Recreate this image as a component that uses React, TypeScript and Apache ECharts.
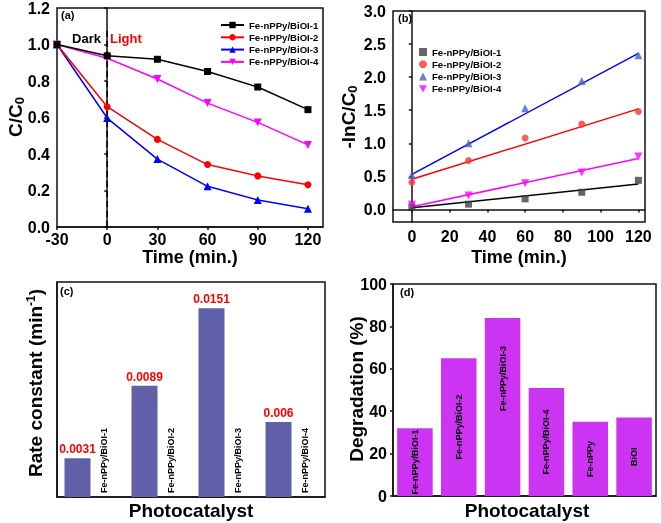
import React, { useEffect, useRef } from "react";
import * as echarts from "echarts";

// ---------- data ----------
const seriesNames = ["Fe-nPPy/BiOI-1", "Fe-nPPy/BiOI-2", "Fe-nPPy/BiOI-3", "Fe-nPPy/BiOI-4"];

// (a) C/C0 vs time
const timeA = [-30, 0, 30, 60, 90, 120];
const cc1 = [1.0, 0.938, 0.919, 0.852, 0.767, 0.643];
const cc2 = [1.0, 0.659, 0.48, 0.342, 0.28, 0.231];
const cc3 = [1.0, 0.597, 0.372, 0.223, 0.148, 0.1];
const cc4 = [1.0, 0.925, 0.811, 0.679, 0.573, 0.45];
const lightOnTime = 0;
const darkLineTop = 1.08;
const ticksAX = [-30, 0, 30, 60, 90, 120];
const ticksAY = [0, 0.2, 0.4, 0.6, 0.8, 1.0, 1.2];

// (b) -ln(C/C0) vs time
const timeB = [0, 30, 60, 90, 120];
const ln1 = [0.04, 0.08, 0.16, 0.26, 0.44];
const ln2 = [0.41, 0.74, 1.08, 1.29, 1.48];
const ln3 = [0.52, 1.0, 1.53, 1.94, 2.33];
const ln4 = [0.07, 0.21, 0.395, 0.56, 0.8];
const fitTimes = [0, 120];
const fit1 = [0.025, 0.385];
const fit2 = [0.455, 1.52];
const fit3 = [0.53, 2.36];
const fit4 = [0.04, 0.77];
const ticksBX = [0, 20, 40, 60, 80, 100, 120];
const ticksBY = [0, 0.5, 1.0, 1.5, 2.0, 2.5, 3.0];

// (c) rate constants
const catC = ["Fe-nPPy/BiOI-1", "Fe-nPPy/BiOI-2", "Fe-nPPy/BiOI-3", "Fe-nPPy/BiOI-4"];
const rateK = [0.0031, 0.0089, 0.0151, 0.006];

// (d) degradation
const catD = ["Fe-nPPy/BiOI-1", "Fe-nPPy/BiOI-2", "Fe-nPPy/BiOI-3", "Fe-nPPy/BiOI-4", "Fe-nPPy", "BiOI"];
const degr = [32, 65, 84, 51, 35, 37];

// ---------- styles ----------
const FONT = "'Liberation Sans', Arial, Helvetica, sans-serif";
const lineColors = ["#000000", "#ff0000", "#0000ff", "#ff00ff"];
const scatterColors = ["#404040", "#ff3333", "#4262c4", "#ff00ff"];
const downTri = "path://M0,0 L10,0 L5,9 Z";
const symbolsA = ["rect", "circle", "triangle", downTri];
const symSizeA = [7, 7, 8, 8];

const tickLabel = { fontFamily: FONT, fontWeight: "bold" as const, fontSize: 16, color: "#000" };
const axisLineStyle = { show: true, lineStyle: { color: "#111", width: 1.5 } };
const tickStyle = { show: true, inside: false, length: 3, lineStyle: { color: "#111", width: 1.5 } };

function nameText(x: number, y: number, rich: any, text: string, rot: number) {
  return {
    type: "text",
    x,
    y,
    rotation: rot,
    style: {
      text,
      fontFamily: FONT,
      fontWeight: "bold",
      fontSize: 19,
      fill: "#000",
      align: "center",
      verticalAlign: "middle",
      rich,
    },
  };
}

const subRich = {
  m: { fontFamily: FONT, fontWeight: "bold", fontSize: 19, fill: "#000", lineHeight: 22 },
  t: { fontFamily: FONT, fontWeight: "bold", fontSize: 18, fill: "#000", lineHeight: 18 },
  s: { fontFamily: FONT, fontWeight: "bold", fontSize: 13, fill: "#000", lineHeight: 22, padding: [9, 0, 0, 0] },
  p: { fontFamily: FONT, fontWeight: "bold", fontSize: 12, fill: "#000", lineHeight: 22, padding: [0, 0, 9, 0] },
};

function panelLabel(x: number, y: number, t: string) {
  return {
    type: "text",
    x,
    y,
    style: { text: t, fontFamily: FONT, fontWeight: "bold", fontSize: 11, fill: "#000", verticalAlign: "middle" },
  };
}

const legendText = { fontFamily: FONT, fontWeight: "bold" as const, fontSize: 9.6, color: "#000", lineHeight: 10 };

export default function App() {
  const ref = useRef<HTMLDivElement>(null);
  useEffect(() => {
    if (!ref.current) return;
    const chart = echarts.init(ref.current, null, { renderer: "svg" });

    const gridBase = { show: true, borderColor: "#111", borderWidth: 1.5, backgroundColor: "#fff", containLabel: false };

    const seriesA = [cc1, cc2, cc3, cc4].map((arr, i) => ({
      name: seriesNames[i],
      type: "line",
      xAxisIndex: 0,
      yAxisIndex: 0,
      data: timeA.map((t, j) => [t, arr[j]]),
      symbol: symbolsA[i],
      symbolSize: symSizeA[i],
      color: lineColors[i],
      lineStyle: { width: 1.5, color: lineColors[i] },
      itemStyle: { color: lineColors[i] },
      z: 5 - i,
    }));

    const darkLight = {
      name: "dark-light",
      type: "line",
      xAxisIndex: 0,
      yAxisIndex: 0,
      data: [
        [lightOnTime, 0],
        [lightOnTime, darkLineTop],
      ],
      symbol: "none",
      lineStyle: { color: "#000", width: 1.5, type: [6, 4] },
      z: 1,
    };

    const scatterB = [ln1, ln2, ln3, ln4].map((arr, i) => ({
      name: "b:" + seriesNames[i],
      type: "scatter",
      xAxisIndex: 1,
      yAxisIndex: 1,
      data: timeB.map((t, j) => [t, arr[j]]),
      symbol: symbolsA[i],
      symbolSize: symSizeA[i],
      itemStyle: { color: scatterColors[i] },
      z: 4,
    }));

    const fitB = [fit1, fit2, fit3, fit4].map((arr, i) => ({
      name: "fit" + i,
      type: "line",
      xAxisIndex: 1,
      yAxisIndex: 1,
      data: fitTimes.map((t, j) => [t, arr[j]]),
      symbol: "none",
      lineStyle: { width: 1.5, color: lineColors[i] },
      z: 3,
    }));

    const option: any = {
      animation: false,
      textStyle: { fontFamily: FONT },
      grid: [
        { ...gridBase, left: 57, top: 8, width: 266, height: 219 },
        { ...gridBase, left: 393, top: 11, width: 252, height: 211 },
        { ...gridBase, left: 57, top: 282, width: 268, height: 215 },
        { ...gridBase, left: 393, top: 284, width: 263, height: 212 },
      ],
      xAxis: [
        {
          gridIndex: 0,
          type: "value",
          min: -30,
          max: 129,
          splitLine: { show: false },
          axisLine: axisLineStyle,
          axisTick: { ...tickStyle, customValues: ticksAX },
          axisLabel: { ...tickLabel, margin: 4, customValues: ticksAX },
        },
        {
          gridIndex: 1,
          type: "value",
          min: -10,
          max: 123.5,
          splitLine: { show: false },
          axisLine: axisLineStyle,
          axisTick: { ...tickStyle, customValues: ticksBX },
          axisLabel: { ...tickLabel, margin: 6, customValues: ticksBX },
        },
        {
          gridIndex: 2,
          type: "category",
          data: catC,
          axisLine: axisLineStyle,
          axisTick: { show: false },
          axisLabel: { show: false },
        },
        {
          gridIndex: 3,
          type: "category",
          data: catD,
          axisLine: axisLineStyle,
          axisTick: { show: false },
          axisLabel: { show: false },
        },
      ],
      yAxis: [
        {
          gridIndex: 0,
          type: "value",
          min: 0,
          max: 1.2,
          splitLine: { show: false },
          axisLine: axisLineStyle,
          axisTick: { ...tickStyle, customValues: ticksAY },
          axisLabel: { ...tickLabel, margin: 7, customValues: ticksAY, formatter: (v: number) => v.toFixed(1) },
        },
        {
          gridIndex: 1,
          type: "value",
          min: -0.19,
          max: 3.0,
          splitLine: { show: false },
          axisLine: axisLineStyle,
          axisTick: { ...tickStyle, customValues: ticksBY },
          axisLabel: { ...tickLabel, margin: 7, customValues: ticksBY, formatter: (v: number) => v.toFixed(1) },
        },
        {
          gridIndex: 2,
          type: "value",
          min: 0,
          max: 0.0172,
          splitLine: { show: false },
          axisLine: axisLineStyle,
          axisTick: { show: false },
          axisLabel: { show: false },
        },
        {
          gridIndex: 3,
          type: "value",
          min: 0,
          max: 100,
          interval: 20,
          splitLine: { show: false },
          axisLine: axisLineStyle,
          axisTick: tickStyle,
          axisLabel: { ...tickLabel, margin: 6 },
        },
      ],
      legend: [
        {
          data: seriesNames,
          orient: "vertical",
          left: 220,
          top: 20,
          padding: 0,
          itemWidth: 23,
          itemHeight: 8,
          itemGap: 2.3,
          textStyle: legendText,
          selectedMode: false,
        },
        {
          data: seriesNames.map((n) => "b:" + n),
          formatter: (n: string) => n.slice(2),
          orient: "vertical",
          left: 419,
          top: 47,
          padding: 0,
          itemWidth: 8,
          itemHeight: 8,
          itemGap: 2.3,
          textStyle: legendText,
          selectedMode: false,
        },
      ],
      series: [
        darkLight,
        ...seriesA,
        ...fitB,
        ...scatterB,
        {
          name: "rate",
          type: "bar",
          xAxisIndex: 2,
          yAxisIndex: 2,
          data: rateK,
          barWidth: 26,
          barGap: "0%",
          itemStyle: { color: "#6060a8" },
          label: {
            show: true,
            position: "top",
            distance: 3,
            color: "#ff0000",
            fontFamily: FONT,
            fontWeight: "bold",
            fontSize: 12,
            formatter: (p: any) => String(p.value),
          },
        },
        {
          name: "rate-name",
          type: "bar",
          xAxisIndex: 2,
          yAxisIndex: 2,
          data: rateK,
          barWidth: 26,
          barGap: "0%",
          itemStyle: { color: "rgba(0,0,0,0)" },
          label: {
            show: true,
            position: "insideBottom",
            distance: 4,
            rotate: 90,
            align: "left",
            verticalAlign: "middle",
            color: "#000",
            fontFamily: FONT,
            fontWeight: "bold",
            fontSize: 9,
            formatter: (p: any) => catC[p.dataIndex],
          },
        },
        {
          name: "degradation",
          type: "bar",
          xAxisIndex: 3,
          yAxisIndex: 3,
          barWidth: "81%",
          data: degr.map((v, i) =>
            i === 2 ? { value: v, label: { position: ["50%", "34%"] } } : v
          ),
          itemStyle: { color: "#cc33f2" },
          label: {
            show: true,
            position: "inside",
            rotate: 90,
            align: "center",
            verticalAlign: "middle",
            color: "#000",
            fontFamily: FONT,
            fontWeight: "bold",
            fontSize: 9,
            formatter: (p: any) => catD[p.dataIndex],
          },
        },
      ],
      graphic: [
        panelLabel(61, 15, "(a)"),
        panelLabel(398, 18, "(b)"),
        panelLabel(60, 291, "(c)"),
        panelLabel(400, 292, "(d)"),
        {
          type: "text",
          x: 101,
          y: 38,
          style: { text: "Dark", fontFamily: FONT, fontWeight: "bold", fontSize: 13, fill: "#000", align: "right", verticalAlign: "middle" },
        },
        {
          type: "text",
          x: 110,
          y: 38,
          style: { text: "Light", fontFamily: FONT, fontWeight: "bold", fontSize: 13, fill: "#ff0000", align: "left", verticalAlign: "middle" },
        },
        nameText(15, 117, subRich, "{m|C/C}{s|0}", Math.PI / 2),
        nameText(348, 117, subRich, "{m|-lnC/C}{s|0}", Math.PI / 2),
        nameText(35, 383, subRich, "{m|Rate constant (min}{p|-1}{m|)}", Math.PI / 2),
        nameText(356, 389, subRich, "{m|Degradation (%)}", Math.PI / 2),
        nameText(190, 257, subRich, "{t|Time (min.)}", 0),
        nameText(519, 257, subRich, "{t|Time (min.)}", 0),
        nameText(191, 510, subRich, "{m|Photocatalyst}", 0),
        nameText(527, 510, subRich, "{m|Photocatalyst}", 0),
      ],
    };

    chart.setOption(option);
    return () => chart.dispose();
  }, []);

  return <div ref={ref} style={{ position: "fixed", left: 0, top: 0, width: 661, height: 523 }} />;
}
